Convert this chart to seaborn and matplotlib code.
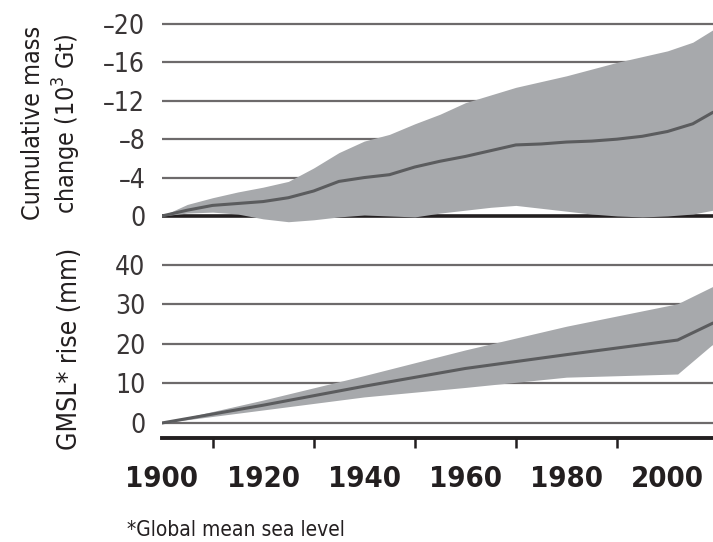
import matplotlib
matplotlib.use("Agg")
import matplotlib.pyplot as plt
from matplotlib.ticker import FixedLocator
import seaborn as sns
import pandas as pd

# Cumulative glacier mass change (10^3 Gt), negative = loss
mass_years = [1900, 1905, 1910, 1915, 1920, 1925, 1930, 1935, 1940, 1945, 1950,
              1955, 1960, 1965, 1970, 1975, 1980, 1985, 1990, 1995, 2000, 2005, 2009]
mass_mean = [0.0, -0.6, -1.1, -1.3, -1.5, -1.9, -2.6, -3.6, -4.0, -4.3, -5.1,
             -5.7, -6.2, -6.8, -7.4, -7.5, -7.7, -7.8, -8.0, -8.3, -8.8, -9.6, -10.8]
mass_loss_bound = [0.0, -1.2, -1.9, -2.5, -3.0, -3.6, -5.0, -6.6, -7.8, -8.5, -9.6,
                   -10.6, -11.8, -12.6, -13.4, -14.0, -14.6, -15.3, -16.0, -16.6, -17.2, -18.1, -19.4]
mass_gain_bound = [0.0, -0.3, -0.4, -0.2, 0.3, 0.6, 0.4, 0.1, -0.1, 0.0, 0.1,
                   -0.3, -0.6, -0.9, -1.1, -0.8, -0.5, -0.2, 0.0, 0.1, 0.0, -0.2, -0.6]

# Global mean sea level contribution (mm)
gmsl_years = [1900, 1920, 1940, 1960, 1980, 2002, 2009]
gmsl_mean = [0.0, 4.5, 9.3, 13.8, 17.3, 21.0, 25.3]
gmsl_upper = [0.0, 5.8, 12.0, 18.5, 24.5, 30.2, 34.6]
gmsl_lower = [0.0, 3.3, 6.6, 9.0, 11.6, 12.4, 20.0]

mass_ticks = [0, -4, -8, -12, -16, -20]
gmsl_ticks = [0, 10, 20, 30, 40]
year_ticks = [1900, 1920, 1940, 1960, 1980, 2000]
year_minor = [1910, 1930, 1950, 1970, 1990]

mass_df = pd.DataFrame({"year": mass_years, "mean": mass_mean,
                        "lo": mass_loss_bound, "hi": mass_gain_bound})
gmsl_df = pd.DataFrame({"year": gmsl_years, "mean": gmsl_mean,
                        "lo": gmsl_lower, "hi": gmsl_upper})

sns.set_theme(style="white")
plt.rcParams["font.family"] = ["DejaVu Sans"]
plt.rcParams["font.stretch"] = "condensed"

band = "#a7a9ac"
line = "#5b5c5e"
grid = "#6d6a6b"
ink = "#231f20"

fig = plt.figure(figsize=(7.13, 5.42), dpi=100)
ax1 = fig.add_axes([0.2272, 0.5803, 0.7728, 0.3843])
ax2 = fig.add_axes([0.2272, 0.1919, 0.7728, 0.3301])

xlim = (1900, 2009)

# Upper panel: cumulative mass change
for t in mass_ticks:
    if t == 0:
        ax1.axhline(t, color=ink, lw=2.6, zorder=0.5)
    else:
        ax1.axhline(t, color=grid, lw=1.6, zorder=0.5)
ax1.fill_between(mass_df["year"], mass_df["lo"], mass_df["hi"],
                 color=band, lw=0, zorder=1)
sns.lineplot(data=mass_df, x="year", y="mean", ax=ax1, color=line, lw=2.2, zorder=2)
ax1.set_xlim(*xlim)
ax1.set_ylim(1.2, -20.5)
ax1.set_yticks(mass_ticks)
ax1.set_yticklabels([f"{t}".replace("-", "\u2013") for t in mass_ticks])
ax1.tick_params(axis="y", length=0, pad=12, labelsize=19, labelcolor="#3a3637")
ax1.tick_params(axis="x", bottom=False, labelbottom=False)
ax1.set_xlabel("")
ax1.set_ylabel("Cumulative mass\nchange (10$^3$ Gt)", fontsize=18, color=ink,
               linespacing=1.25)
ax1.yaxis.set_label_coords(-0.143, 0.5)
for s in ax1.spines.values():
    s.set_visible(False)

# Lower panel: sea-level rise
for t in gmsl_ticks:
    ax2.axhline(t, color=grid, lw=1.6, zorder=0.5)
ax2.fill_between(gmsl_df["year"], gmsl_df["lo"], gmsl_df["hi"],
                 color=band, lw=0, zorder=1)
sns.lineplot(data=gmsl_df, x="year", y="mean", ax=ax2, color=line, lw=2.2, zorder=2)
ax2.set_xlim(*xlim)
ax2.set_ylim(-3.8, 41.5)
ax2.set_yticks(gmsl_ticks)
ax2.tick_params(axis="y", length=0, pad=12, labelsize=19, labelcolor="#3a3637")
ax2.set_xticks(year_ticks)
ax2.xaxis.set_minor_locator(FixedLocator(year_minor))
ax2.tick_params(axis="x", which="major", direction="out", length=12.5, width=1.8,
                color=ink, pad=7, labelsize=21, labelcolor=ink)
ax2.tick_params(axis="x", which="minor", direction="out", length=7, width=1.8,
                color=ink, bottom=True)
for lab in ax2.get_xticklabels():
    lab.set_fontweight("bold")
ax2.set_xlabel("")
ax2.set_ylabel("GMSL* rise (mm)", fontsize=19, color=ink)
ax2.yaxis.set_label_coords(-0.143, 0.5)
for name, s in ax2.spines.items():
    s.set_visible(name == "bottom")
ax2.spines["bottom"].set_color(ink)
ax2.spines["bottom"].set_linewidth(2.8)

fig.text(127 / 713, 1 - 530 / 542, "*Global mean sea level", fontsize=15,
         color=ink, ha="left", va="center")

fig.savefig("out.png", dpi=100)
